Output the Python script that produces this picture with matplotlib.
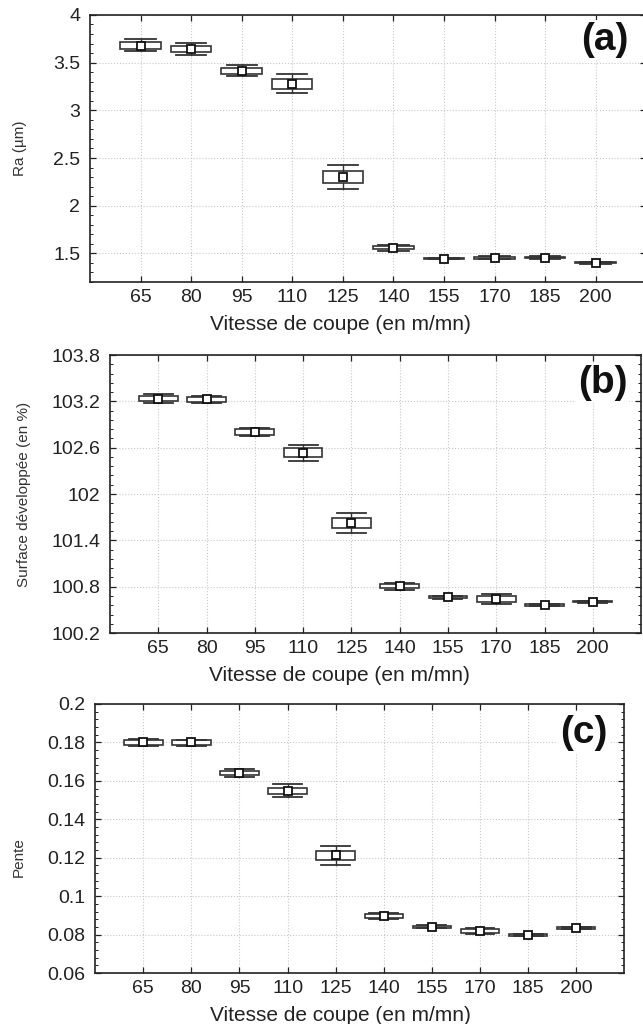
import numpy as np
import matplotlib
matplotlib.use('Agg')
import matplotlib.pyplot as plt
from matplotlib.ticker import MultipleLocator, AutoMinorLocator, FuncFormatter

plt.rcParams['font.family'] = ['Liberation Sans', 'DejaVu Sans']

# ============================== DATA ==============================
vitesse = ['65', '80', '95', '110', '125', '140', '155', '170', '185', '200']

# (a) Ra (um)
mean_a = [3.679, 3.644, 3.417, 3.281, 2.302, 1.560, 1.444, 1.455, 1.455, 1.403]
boxhi_a = [3.714, 3.679, 3.449, 3.327, 2.365, 1.575, 1.450, 1.465, 1.463, 1.410]
boxlo_a = [3.641, 3.610, 3.383, 3.223, 2.235, 1.545, 1.440, 1.445, 1.447, 1.396]
whhi_a = [3.745, 3.710, 3.474, 3.380, 2.424, 1.590, 1.452, 1.470, 1.468, 1.414]
whlo_a = [3.617, 3.578, 3.355, 3.177, 2.173, 1.530, 1.437, 1.440, 1.442, 1.393]

# (b) Surface developpee (%)
mean_b = [103.229, 103.225, 102.804, 102.536, 101.627, 100.804, 100.664, 100.644, 100.562, 100.605]
boxhi_b = [103.264, 103.255, 102.839, 102.592, 101.687, 100.830, 100.675, 100.683, 100.570, 100.612]
boxlo_b = [103.199, 103.194, 102.770, 102.475, 101.562, 100.778, 100.654, 100.601, 100.555, 100.598]
whhi_b = [103.294, 103.272, 102.861, 102.635, 101.748, 100.843, 100.680, 100.700, 100.575, 100.617]
whlo_b = [103.173, 103.173, 102.748, 102.432, 101.501, 100.761, 100.645, 100.580, 100.550, 100.593]

# (c) Pente
mean_c = [0.1801, 0.1801, 0.1641, 0.1547, 0.1212, 0.0898, 0.0841, 0.0818, 0.0797, 0.0834]
boxhi_c = [0.1811, 0.1811, 0.1653, 0.1564, 0.1235, 0.0908, 0.0846, 0.0830, 0.0801, 0.0837]
boxlo_c = [0.1788, 0.1788, 0.1629, 0.1530, 0.1187, 0.0888, 0.0836, 0.0806, 0.0793, 0.0831]
whhi_c = [0.1818, 0.1815, 0.1660, 0.1582, 0.1259, 0.0913, 0.0848, 0.0833, 0.0803, 0.0839]
whlo_c = [0.1781, 0.1784, 0.1622, 0.1516, 0.1162, 0.0883, 0.0834, 0.0803, 0.0791, 0.0829]

# ============================== PLOT ==============================
fig = plt.figure(figsize=(6.43, 10.24), dpi=100)

ec = '#333333'
xlbl = 'Vitesse de coupe (en m/mn)'


def panel(pos, mean, blo, bhi, wlo, whi, ylim, major, ylbl, tag, ylblxy, xlblx, tagxy):
    ax = fig.add_axes(pos)
    stats = []
    for i in range(len(mean)):
        stats.append(dict(med=mean[i], q1=blo[i], q3=bhi[i], whislo=wlo[i],
                          whishi=whi[i], mean=mean[i], fliers=[]))
    ax.bxp(stats, positions=np.arange(len(mean)), widths=0.8, showmeans=True,
           patch_artist=True,
           boxprops=dict(facecolor='white', edgecolor=ec, linewidth=1.2),
           whiskerprops=dict(color=ec, linewidth=1.0),
           capprops=dict(color=ec, linewidth=1.3),
           medianprops=dict(linewidth=0),
           meanprops=dict(marker='s', markerfacecolor='white', markeredgecolor='#111111',
                          markersize=6, markeredgewidth=1.3),
           capwidths=0.6, zorder=3)
    ax.set_xlim(-1, len(mean))
    ax.set_ylim(ylim)
    ax.set_xticks(np.arange(len(mean)))
    ax.set_xticklabels(vitesse)
    ax.yaxis.set_major_locator(MultipleLocator(major))
    ax.yaxis.set_minor_locator(AutoMinorLocator(5))
    ax.yaxis.set_major_formatter(FuncFormatter(lambda v, p: '%g' % round(v, 6)))
    ax.grid(True, which='major', color='#c8c8c8', linestyle=':', linewidth=0.8, zorder=0)
    ax.set_axisbelow(True)
    ax.tick_params(which='both', direction='in', top=True, right=True, labelsize=14, colors='#222222')
    ax.tick_params(which='major', length=4, width=0.9)
    ax.tick_params(which='minor', length=2.5, width=0.7)
    ax.tick_params(axis='y', pad=7)
    ax.tick_params(axis='x', pad=5)
    for sp in ax.spines.values():
        sp.set_linewidth(1.2)
        sp.set_color('#222222')
    ax.set_ylabel(ylbl, fontsize=11, color='#333333')
    ax.yaxis.set_label_coords(*ylblxy)
    ax.set_xlabel(xlbl, fontsize=15, color='#222222')
    ax.xaxis.set_label_coords(xlblx, -0.125 * 267 / (pos[3] * 1024))
    ax.text(tagxy[0], tagxy[1], tag, transform=ax.transAxes, ha='right', va='center',
            fontsize=28, fontweight='bold', color='#111111', zorder=5,
            bbox=dict(facecolor='white', edgecolor='none', pad=1))
    return ax


panel([0.140, 0.7246, 0.865, 0.2608], mean_a, boxlo_a, boxhi_a, whlo_a, whhi_a,
      (1.2, 4.0), 0.5, 'Ra (µm)', '(a)', (-0.113, 0.5), 0.45, (0.969, 0.906))
panel([0.171, 0.3818, 0.826, 0.2715], mean_b, boxlo_b, boxhi_b, whlo_b, whhi_b,
      (100.2, 103.8), 0.6, 'Surface développée (en %)', '(b)', (-0.149, 0.5), 0.433, (0.974, 0.899))
panel([0.148, 0.0498, 0.823, 0.2627], mean_c, boxlo_c, boxhi_c, whlo_c, whhi_c,
      (0.06, 0.2), 0.02, 'Pente', '(c)', (-0.132, 0.43), 0.463, (0.968, 0.892))

plt.savefig('out.png', dpi=100)
